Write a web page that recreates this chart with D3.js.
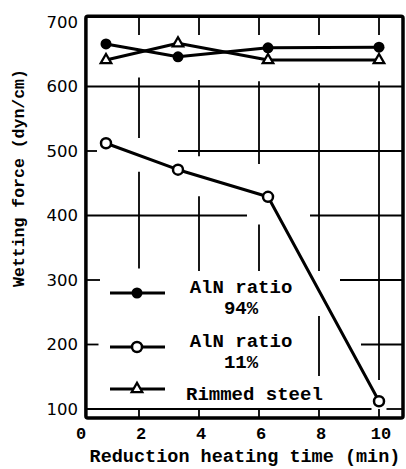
<!DOCTYPE html>
<html>
<head>
<meta charset="utf-8">
<script src="https://cdn.jsdelivr.net/npm/d3@7"></script>
<style>
  body { margin: 0; background: #fff; }
  #chart-container { width: 406px; height: 469px; }
</style>
</head>
<body>
<div id="chart-container"></div>
<script>
// Values
const times = [0.9, 3.3, 6.3, 10];
const aln94 = [666, 646, 660, 661];
const aln11 = [512, 471, 429, 112];
const rimmed = [641, 667, 641, 641];

const xTicks = [0, 2, 4, 6, 8, 10];
const yTicks = [100, 200, 300, 400, 500, 600, 700];

// the frame does not start at 0 / 100 in the original
const frameX = [0.23, 10.8];
const frameY = [86, 709];

// broken grid lines of the original drawing: [value, from, to]
const hGrid = [
    [600, 0.23, 10.8],
    [500, 0.23, 0.6], [500, 3.3, 10.8],
    [400, 0.23, 5.6], [400, 7.7, 10.8],
    [300, 0.23, 0.7], [300, 8.7, 10.8],
    [200, 0.23, 0.65], [200, 9.4, 10.8],
    [100, 0.23, 9.75], [100, 10.25, 10.8]
];
const vGrid = [
    [2, 709, 680], [2, 614, 520], [2, 468, 318], [2, 100, 86],
    [4, 709, 680], [4, 610, 492], [4, 430, 314], [4, 100, 86],
    [6, 709, 680], [6, 608, 480], [6, 386, 314], [6, 100, 86],
    [8, 709, 680], [8, 605, 314], [8, 244, 151], [8, 100, 86],
    [10, 709, 680], [10, 608, 145], [10, 100, 86]
];

const seriesNames = ["AlN ratio|94%", "AlN ratio|11%", "Rimmed steel"];

function renderChart() {
    d3.select("#chart-container svg").remove();

    const svg = d3.select("#chart-container")
        .append("svg")
        .attr("width", 406)
        .attr("height", 469);

    const x = d3.scaleLinear().domain([0, 10]).range([79, 379]);
    const y = d3.scaleLinear().domain([100, 700]).range([409, 22]);

    const mono = "'Liberation Mono', 'DejaVu Sans Mono', monospace";

    // grid lines
    svg.append("g")
        .selectAll("line")
        .data(hGrid)
        .join("line")
        .attr("x1", d => x(d[1]))
        .attr("x2", d => x(d[2]))
        .attr("y1", d => y(d[0]))
        .attr("y2", d => y(d[0]))
        .attr("stroke", "#000")
        .attr("stroke-width", 1.8);

    svg.append("g")
        .selectAll("line")
        .data(vGrid)
        .join("line")
        .attr("x1", d => x(d[0]))
        .attr("x2", d => x(d[0]))
        .attr("y1", d => y(d[1]))
        .attr("y2", d => y(d[2]))
        .attr("stroke", "#000")
        .attr("stroke-width", 1.8);

    // frame
    svg.append("rect")
        .attr("x", x(frameX[0]))
        .attr("y", y(frameY[1]))
        .attr("width", x(frameX[1]) - x(frameX[0]))
        .attr("height", y(frameY[0]) - y(frameY[1]))
        .attr("fill", "none")
        .attr("stroke", "#000")
        .attr("stroke-width", 3.5)
        .attr("rx", 2);

    // y tick labels
    svg.append("g")
        .selectAll("text")
        .data(yTicks)
        .join("text")
        .attr("x", 78)
        .attr("y", d => y(d))
        .attr("dy", "0.36em")
        .attr("text-anchor", "end")
        .style("font-family", "'DejaVu Sans', sans-serif")
        .style("font-size", "16.5px")
        .text(d => d);

    // x tick labels
    svg.append("g")
        .selectAll("text")
        .data(xTicks)
        .join("text")
        .attr("x", d => x(d) + 2)
        .attr("y", 439)
        .attr("text-anchor", "middle")
        .style("font-family", mono)
        .style("font-weight", "bold")
        .style("font-size", "17px")
        .text(d => d);

    // axis titles
    svg.append("text")
        .attr("x", 245)
        .attr("y", 462)
        .attr("text-anchor", "middle")
        .style("font-family", mono)
        .style("font-weight", "bold")
        .style("font-size", "18.5px")
        .text("Reduction heating time (min)");

    svg.append("text")
        .attr("transform", "translate(24,178) rotate(-90)")
        .attr("text-anchor", "middle")
        .style("font-family", mono)
        .style("font-weight", "bold")
        .style("font-size", "16.5px")
        .text("Wetting force (dyn/cm)");

    // data lines
    const line = d3.line()
        .x(d => x(d[0]))
        .y(d => y(d[1]));

    [aln94, aln11, rimmed].forEach(vals => {
        svg.append("path")
            .datum(times.map((t, i) => [t, vals[i]]))
            .attr("fill", "none")
            .attr("stroke", "#000")
            .attr("stroke-width", 3)
            .attr("stroke-linejoin", "round")
            .attr("d", line);
    });

    // markers
    const tri = d3.symbol().type(d3.symbolTriangle).size(48);

    svg.append("g")
        .selectAll("path")
        .data(times.map((t, i) => [t, rimmed[i]]))
        .join("path")
        .attr("transform", d => `translate(${x(d[0])},${y(d[1])})`)
        .attr("d", tri)
        .attr("fill", "#fff")
        .attr("stroke", "#000")
        .attr("stroke-width", 2.3);

    svg.append("g")
        .selectAll("circle")
        .data(times.map((t, i) => [t, aln11[i]]))
        .join("circle")
        .attr("cx", d => x(d[0]))
        .attr("cy", d => y(d[1]))
        .attr("r", 5)
        .attr("fill", "#fff")
        .attr("stroke", "#000")
        .attr("stroke-width", 2.5);

    svg.append("g")
        .selectAll("circle")
        .data(times.map((t, i) => [t, aln94[i]]))
        .join("circle")
        .attr("cx", d => x(d[0]))
        .attr("cy", d => y(d[1]))
        .attr("r", 5.5)
        .attr("fill", "#000");

    // legend
    const legendY = [293, 347, 389];
    const legend = svg.append("g");

    legendY.forEach((ly, i) => {
        legend.append("line")
            .attr("x1", 110)
            .attr("x2", 165)
            .attr("y1", ly)
            .attr("y2", ly)
            .attr("stroke", "#000")
            .attr("stroke-width", 3);

        if (i === 0) {
            legend.append("circle")
                .attr("cx", 137).attr("cy", ly).attr("r", 5.5)
                .attr("fill", "#000");
        } else if (i === 1) {
            legend.append("circle")
                .attr("cx", 137).attr("cy", ly).attr("r", 5)
                .attr("fill", "#fff").attr("stroke", "#000").attr("stroke-width", 2.5);
        } else {
            legend.append("path")
                .attr("transform", `translate(137,${ly})`)
                .attr("d", tri)
                .attr("fill", "#fff").attr("stroke", "#000").attr("stroke-width", 2.3);
        }

        const parts = seriesNames[i].split("|");
        if (parts.length === 2) {
            legend.append("text")
                .attr("x", 241).attr("y", ly - 7)
                .attr("dy", "0.35em")
                .attr("text-anchor", "middle")
                .style("font-family", mono).style("font-weight", "bold").style("font-size", "19px")
                .text(parts[0]);
            legend.append("text")
                .attr("x", 241).attr("y", ly + 14)
                .attr("dy", "0.35em")
                .attr("text-anchor", "middle")
                .style("font-family", mono).style("font-weight", "bold").style("font-size", "19px")
                .text(parts[1]);
        } else {
            legend.append("text")
                .attr("x", 186).attr("y", ly + 4)
                .attr("dy", "0.35em")
                .style("font-family", mono).style("font-weight", "bold").style("font-size", "19px")
                .text(parts[0]);
        }
    });
}

renderChart();
</script>
</body>
</html>
